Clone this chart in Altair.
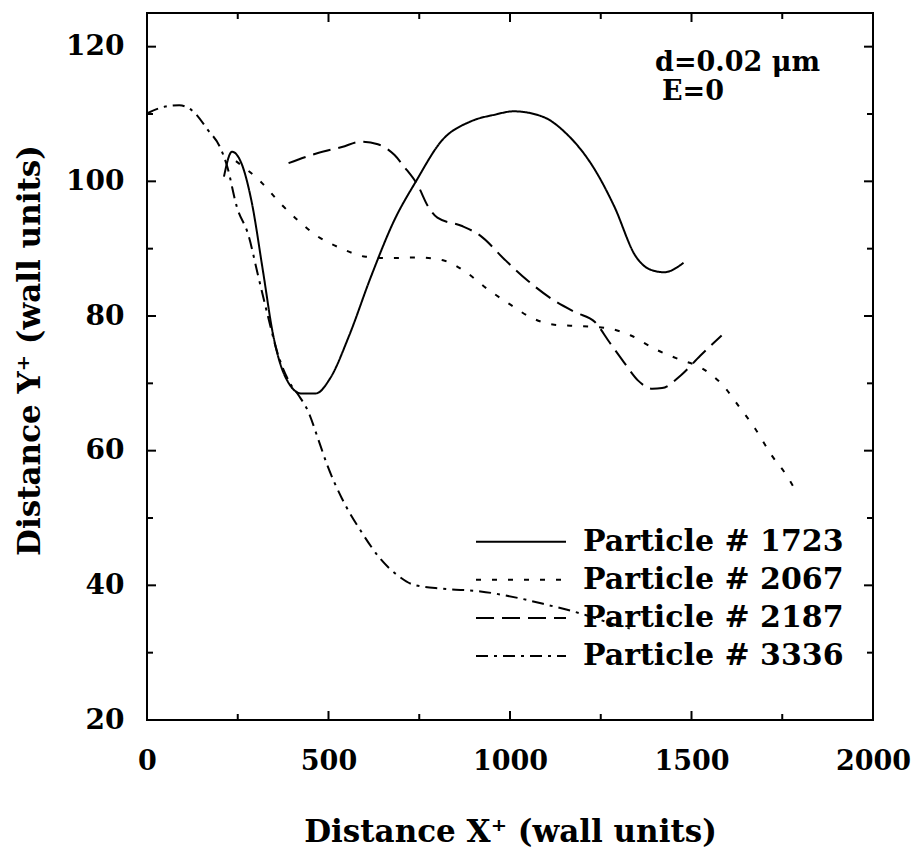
import altair as alt
import pandas as pd

# ---------------- data ----------------
series_names = ["1723", "2067", "2187", "3336"]
legend_labels = ["Particle # 1723", "Particle # 2067", "Particle # 2187", "Particle # 3336"]

x_1723 = [212, 234, 260, 287, 320, 346, 379, 425, 465, 504, 557, 616, 682, 741, 813, 892, 958, 1010, 1090, 1155, 1234, 1287, 1346, 1386, 1425, 1478]
y_1723 = [100.7, 104.4, 102.7, 97.3, 86.5, 77.6, 71.2, 68.5, 68.5, 70.7, 77.1, 85.7, 94.3, 100.0, 106.1, 108.9, 109.9, 110.4, 109.6, 107.1, 101.7, 96.3, 88.9, 86.9, 86.5, 87.9]

x_2067 = [245, 316, 366, 418, 471, 537, 603, 675, 747, 820, 879, 938, 998, 1057, 1122, 1195, 1267, 1333, 1399, 1464, 1530, 1590, 1629, 1675, 1721, 1761, 1794]
y_2067 = [103.0, 99.8, 96.8, 94.1, 91.8, 90.0, 88.8, 88.6, 88.7, 88.2, 86.5, 84.0, 81.8, 79.8, 78.7, 78.5, 78.2, 77.1, 75.1, 73.6, 72.2, 69.5, 66.7, 63.3, 59.3, 56.4, 53.4]

x_2187 = [390, 471, 537, 590, 636, 682, 708, 747, 774, 800, 866, 919, 985, 1050, 1116, 1182, 1234, 1274, 1313, 1353, 1392, 1419, 1471, 1524, 1583]
y_2187 = [102.7, 104.2, 105.1, 105.9, 105.5, 103.9, 102.2, 99.3, 96.3, 94.6, 93.4, 91.9, 88.4, 85.2, 82.5, 80.5, 79.1, 76.1, 73.2, 70.4, 69.2, 69.3, 71.2, 74.1, 77.1]

x_3336 = [0, 50, 89, 129, 168, 201, 221, 247, 280, 306, 333, 359, 392, 418, 445, 471, 497, 537, 590, 642, 695, 734, 813, 919, 1024, 1103, 1155, 1208, 1287, 1330]
y_3336 = [110.1, 111.1, 111.3, 110.3, 107.6, 105.1, 102.2, 96.3, 91.9, 86.0, 80.0, 74.6, 70.2, 68.2, 65.7, 61.8, 57.8, 52.9, 48.0, 44.0, 41.3, 40.1, 39.5, 39.1, 38.1, 37.1, 36.4, 35.6, 34.2, 33.6]

x_major = [0, 500, 1000, 1500, 2000]
x_minor = [250, 750, 1250, 1750]
y_major = [20, 40, 60, 80, 100, 120]
y_minor = [30, 50, 70, 90, 110]

annotation_1 = ["d=0.02 μm"]
annotation_2 = ["E=0"]

x_title = "Distance X⁺ (wall units)"
y_title = "Distance Y⁺ (wall units)"

# ---------------- build tables ----------------
rows = []
for name, xs, ys in [("1723", x_1723, y_1723), ("2067", x_2067, y_2067),
                     ("2187", x_2187, y_2187), ("3336", x_3336, y_3336)]:
    for i, (a, b) in enumerate(zip(xs, ys)):
        rows.append({"series": name, "x": a, "y": b, "i": i})
df = pd.DataFrame(rows)
leg = pd.DataFrame({"series": series_names, "label": legend_labels})

W, H = 726, 707
FONT = "DejaVu Serif"
xdom = alt.Scale(domain=[0, 2000], nice=False, zero=False)
ydom = alt.Scale(domain=[20, 125], nice=False, zero=False)
dash_scale = alt.Scale(domain=series_names, range=[[1, 0], [5, 11], [18, 8], [12, 6, 3, 6]])
leg_y = alt.Scale(type="point", domain=series_names, range=[528.7, 643], padding=0)

x_axis = alt.Axis(
    values=x_major, format="d", title=x_title, grid=False, ticks=False, domain=False,
    labelFont=FONT, labelFontWeight="bold", labelFontSize=27, labelPadding=28,
    labelColor="black", titleFont=FONT, titleFontWeight="bold", titleFontSize=31,
    titleColor="black", titleBaseline="alphabetic", titleY=121, labelFlush=False)

lines = alt.Chart(df).mark_line(color="black", strokeWidth=2, interpolate="monotone", clip=True).encode(
    x=alt.X("x:Q", scale=xdom, axis=x_axis),
    y=alt.Y("y:Q", scale=ydom, axis=alt.Axis(
        values=y_major, format="d", title=y_title, grid=False, ticks=False, domain=False,
        labelFont=FONT, labelFontWeight="bold", labelFontSize=28, labelPadding=23,
        labelColor="black", titleFont=FONT, titleFontWeight="bold", titleFontSize=31,
        titleColor="black", titleBaseline="alphabetic", titleX=-108, titleY=337,
        titleAngle=270, labelFlush=False)),
    strokeDash=alt.StrokeDash("series:N", scale=dash_scale, legend=None),
    detail="series:N",
    order="i:Q",
)

def xticks(vals, length):
    d = pd.DataFrame({"v": vals})
    bottom = alt.Chart(d).mark_rule(color="black", strokeWidth=2).encode(
        x=alt.X("v:Q", scale=xdom, axis=x_axis, title=x_title), y=alt.value(H), y2=alt.value(H - length))
    top = alt.Chart(d).mark_rule(color="black", strokeWidth=2).encode(
        x=alt.X("v:Q", scale=xdom, axis=x_axis, title=x_title), y=alt.value(0), y2=alt.value(length))
    return [bottom, top]

def yticks(vals, length):
    d = pd.DataFrame({"v": vals})
    left = alt.Chart(d).mark_rule(color="black", strokeWidth=2).encode(
        y=alt.Y("v:Q", scale=ydom, axis=None), x=alt.value(0), x2=alt.value(length))
    right = alt.Chart(d).mark_rule(color="black", strokeWidth=2).encode(
        y=alt.Y("v:Q", scale=ydom, axis=None), x=alt.value(W), x2=alt.value(W - length))
    return [left, right]

tick_layers = xticks(x_major, 9) + xticks(x_minor, 6) + yticks(y_major, 9) + yticks(y_minor, 6)

leg_lines = alt.Chart(leg).mark_rule(color="black", strokeWidth=2).encode(
    y=alt.Y("series:N", scale=leg_y, axis=None),
    x=alt.value(329), x2=alt.value(419),
    strokeDash=alt.StrokeDash("series:N", scale=dash_scale, legend=None),
)
leg_text = alt.Chart(leg).mark_text(align="left", baseline="middle", font=FONT,
                                    fontWeight="bold", fontSize=30, color="black").encode(
    y=alt.Y("series:N", scale=leg_y, axis=None),
    x=alt.value(436),
    text="label:N",
)

ann1 = alt.Chart(pd.DataFrame({"t": annotation_1})).mark_text(
    align="left", baseline="alphabetic", font=FONT, fontWeight="bold", fontSize=27, color="black"
).encode(x=alt.value(508), y=alt.value(58), text="t:N")
ann2 = alt.Chart(pd.DataFrame({"t": annotation_2})).mark_text(
    align="left", baseline="alphabetic", font=FONT, fontWeight="bold", fontSize=27, color="black"
).encode(x=alt.value(515), y=alt.value(87), text="t:N")

chart = alt.layer(lines, *tick_layers, leg_lines, leg_text, ann1, ann2).resolve_scale(
    y="independent"
).properties(
    width=W, height=H,
    padding={"left": 147, "top": 13, "right": 41, "bottom": 127},
    autosize=alt.AutoSizeParams(type="none"),
    background="white",
).configure_view(stroke="black", strokeWidth=2)

chart.save("out.html", embed_options={"renderer": "svg", "actions": False})
